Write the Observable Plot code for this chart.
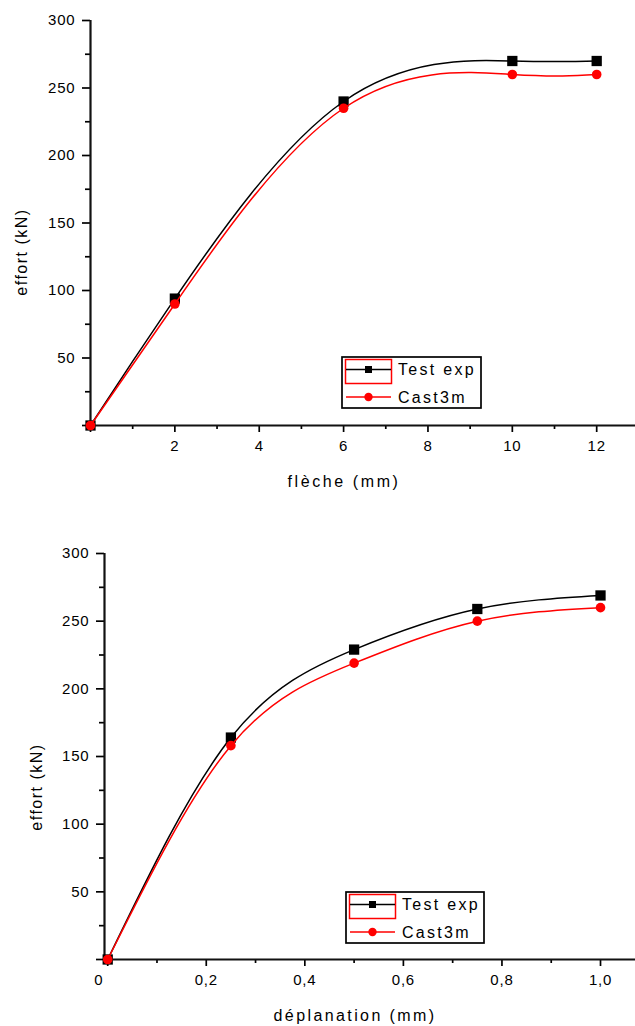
<!DOCTYPE html>
<html><head><meta charset="utf-8">
<script src="https://cdn.jsdelivr.net/npm/d3@7"></script>
<script src="https://cdn.jsdelivr.net/npm/@observablehq/plot@0.6"></script>
<style>
body{margin:0;background:#fff;}
#wrap{position:relative;width:635px;height:1026px;overflow:hidden;background:#fff;}
.panel{position:absolute;left:0;}
.panel svg{overflow:visible;}
.legend{position:absolute;left:0;top:0;}
</style></head><body><div id="wrap"></div>
<script>
// ---- data ----
const flecheX    = [0, 2, 6, 10, 12];
const flecheTest = [0, 94, 240, 270, 270];
const flecheCast = [0, 90, 235, 260, 260];

const deplX    = [0, 0.25, 0.5, 0.75, 1.0];
const deplTest = [0, 164, 229, 259, 269];
const deplCast = [0, 158, 219, 250, 260];

const yMajor = [0, 50, 100, 150, 200, 250, 300];
const yMinor = [25, 75, 125, 175, 225, 275];
const flecheMajor = [0, 2, 4, 6, 8, 10, 12];
const flecheMinor = [1, 3, 5, 7, 9, 11];
const deplMajor = [0.2, 0.4, 0.6, 0.8, 1.0];
const deplMinor = [0.1, 0.3, 0.5, 0.7, 0.9];

const seriesNames = ["Test exp", "Cast3m"];
const yTitle = "effort (kN)";
const xTitles = ["flèche (mm)", "déplanation (mm)"];
const FONT = "'Liberation Sans', Arial, sans-serif";

function panel(o) {
  const rows = o.xs.map((x, i) => ({x, test: o.test[i], cast: o.cast[i]}));
  const extra = o.extraMarks || [];
  return Plot.plot({
    width: 635, height: o.height,
    marginLeft: o.ml, marginRight: 0, marginTop: o.mt, marginBottom: o.mb,
    x: {domain: o.xDomain}, y: {domain: [0, 300]},
    style: {fontFamily: FONT, fontSize: "15px", color: "#000", background: "transparent", overflow: "visible", letterSpacing: "0.8px"},
    marks: [
      Plot.axisY(yMajor, {label: null, tickSize: 8, tickPadding: 7, strokeWidth: 1.7, tickFormat: d => d === 0 ? "" : String(d)}),
      Plot.axisY(yMinor, {label: null, tickSize: 5, strokeWidth: 1.7, tickFormat: () => ""}),
      Plot.axisX(o.xMajor, {label: null, tickSize: 7, tickPadding: 8, strokeWidth: 1.7, tickFormat: o.xFmt}),
      Plot.axisX(o.xMinor, {label: null, tickSize: 4, strokeWidth: 1.7, tickFormat: () => ""}),
      ...extra,
      Plot.ruleX([o.xDomain[0]], {strokeWidth: 2.2, stroke: "#111"}),
      Plot.ruleY([0], {strokeWidth: 2.2, stroke: "#111"}),
      Plot.line(rows, {x: "x", y: "test", curve: "natural", stroke: "#000", strokeWidth: 1.5}),
      Plot.dot(rows, {x: "x", y: "test", symbol: "square", r: 5.8, fill: "#000", stroke: "none"}),
      Plot.line(rows, {x: "x", y: "cast", curve: "natural", stroke: "#ff0000", strokeWidth: 1.5}),
      Plot.dot(rows, {x: "x", y: "cast", symbol: "circle", r: 4.8, fill: "#ff0000", stroke: "none"})
    ]
  });
}

function legend(svg, x0, y0, w, h) {
  const g = svg.append("g").attr("transform", `translate(${x0},${y0})`);
  g.append("rect").attr("x", 0).attr("y", 0).attr("width", w).attr("height", h)
    .attr("fill", "#fff").attr("stroke", "#000").attr("stroke-width", 1.7);
  g.append("rect").attr("x", 3.5).attr("y", 2.5).attr("width", 46).attr("height", 24)
    .attr("fill", "none").attr("stroke", "#ff0000").attr("stroke-width", 1.5);
  const rowsY = [12.5, 40];
  g.append("line").attr("x1", 4).attr("x2", 49).attr("y1", rowsY[0]).attr("y2", rowsY[0]).attr("stroke", "#000").attr("stroke-width", 1.5);
  g.append("rect").attr("x", 23).attr("y", rowsY[0] - 3.5).attr("width", 7).attr("height", 7).attr("fill", "#000");
  g.append("line").attr("x1", 4).attr("x2", 49).attr("y1", rowsY[1]).attr("y2", rowsY[1]).attr("stroke", "#ff0000").attr("stroke-width", 1.5);
  g.append("circle").attr("cx", 26.5).attr("cy", rowsY[1]).attr("r", 4.2).attr("fill", "#ff0000");
  seriesNames.forEach((name, i) => {
    g.append("text").attr("x", 56).attr("y", rowsY[i]).attr("dy", "0.35em")
      .attr("font-family", FONT).attr("font-size", 16).attr("letter-spacing", "2.3px").attr("fill", "#000").text(name);
  });
}

function titleText(svg, txt, cx, cy, rot, ls) {
  svg.append("text").attr("transform", `translate(${cx},${cy}) rotate(${rot})`)
    .attr("text-anchor", "middle").attr("dy", "0.35em")
    .attr("font-family", FONT).attr("font-size", 16).attr("letter-spacing", ls)
    .attr("fill", "#000").text(txt);
}

const wrap = document.getElementById("wrap");

// top panel
const p1 = panel({
  xs: flecheX, test: flecheTest, cast: flecheCast,
  xDomain: [0, 12.92], xMajor: flecheMajor, xMinor: flecheMinor,
  xFmt: d => d === 0 ? "" : String(d),
  height: 500, ml: 90, mt: 20, mb: 75
});
const d1 = document.createElement("div"); d1.className = "panel"; d1.style.top = "0px";
d1.appendChild(p1); wrap.appendChild(d1);

// bottom panel
const p2 = panel({
  xs: deplX, test: deplTest, cast: deplCast,
  xDomain: [-0.0065, 1.071], xMajor: deplMajor, xMinor: deplMinor,
  xFmt: d => d.toFixed(1).replace(".", ","),
  height: 526, ml: 104, mt: 53, mb: 67,
  extraMarks: [
    Plot.axisX([0], {label: null, tickSize: 7, strokeWidth: 1.7, tickFormat: () => ""}),
    Plot.axisX([0], {label: null, tickSize: 0, tickPadding: 15, dx: -9, tickFormat: () => "0"})
  ]
});
const d2 = document.createElement("div"); d2.className = "panel"; d2.style.top = "500px";
d2.appendChild(p2); wrap.appendChild(d2);

// overlay: legends and axis titles
const ov = d3.select(wrap).append("svg").attr("class", "legend").attr("width", 635).attr("height", 1026);
legend(ov, 342, 357, 139, 51);
legend(ov, 346, 892, 138, 51);
titleText(ov, yTitle, 21, 252, -90, "1.5px");
titleText(ov, yTitle, 36, 787, -90, "1.5px");
titleText(ov, xTitles[0], 344, 481, 0, "2.6px");
titleText(ov, xTitles[1], 355, 1015, 0, "2.4px");
</script></body></html>
